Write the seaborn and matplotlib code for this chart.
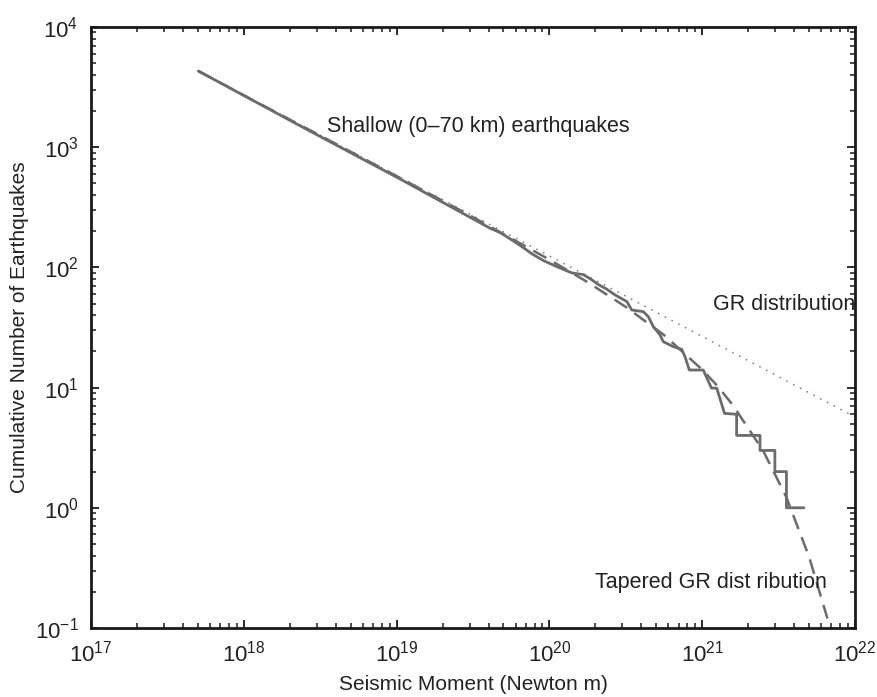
import numpy as np
import pandas as pd
import matplotlib
matplotlib.use("Agg")
import matplotlib.pyplot as plt
import seaborn as sns

obs_moment = [5.04e17, 2.28e18, 1.05e19, 4.08e19, 4.75e19, 5.81e19, 6.75e19, 7.66e19,
              9.12e19, 1.035e20, 1.17e20, 1.40e20, 1.67e20, 1.89e20, 2.09e20, 2.37e20,
              2.69e20, 3.21e20, 3.46e20, 4.12e20, 4.44e20, 4.79e20, 5.30e20, 5.56e20,
              6.47e20, 7.35e20, 7.71e20, 8.24e20, 1.016e21, 1.15e21, 1.245e21, 1.40e21,
              1.68e21, 1.68e21, 2.39e21, 2.39e21, 2.99e21, 2.99e21, 3.56e21, 3.56e21, 4.63e21]
obs_count = [4300, 1530, 545, 212, 195, 166, 146, 130,
             114, 106, 99, 90, 87, 79, 72, 66,
             59, 52, 44.2, 42.8, 38.9, 32.1, 27.4, 24.1,
             21.9, 20.8, 18.1, 14.0, 14.0, 9.9, 9.9, 6.1,
             6, 4, 4, 3, 3, 2, 2, 1, 1]

# plain GR line (straight in log-log)
gr_moment = [5.04e17, 1e22]
gr_count = [4300, 5.7]

# tapered GR curve
tap_moment = [5.04e17, 1e18, 3.16e18, 1e19, 3.16e19, 1e20, 1.78e20, 3.16e20, 5.62e20,
              1e21, 1.26e21, 1.58e21, 2.51e21, 3.55e21, 5.01e21, 6.6e21]
tap_count = [4300, 2700, 1248, 575, 262, 116, 75.3, 46.9, 27.4,
             14.1, 10.3, 7.2, 2.97, 1.23, 0.39, 0.12]

sns.set_style("ticks")
plt.rcParams['font.family'] = ['Liberation Sans', 'DejaVu Sans']
plt.rcParams['mathtext.fontset'] = 'custom'
plt.rcParams['mathtext.rm'] = 'Liberation Sans'
plt.rcParams['mathtext.it'] = 'Liberation Sans:italic'

fig = plt.figure(figsize=(8.77, 6.97), dpi=100)
ax = fig.add_axes([0.1038, 0.0990, 0.8711, 0.8623])

line_col = "#6b6b6b"
df_obs = pd.DataFrame({"m": obs_moment, "n": obs_count})
df_gr = pd.DataFrame({"m": gr_moment, "n": gr_count})
df_tap = pd.DataFrame({"m": tap_moment, "n": tap_count})

sns.lineplot(data=df_gr, x="m", y="n", ax=ax, color="#7a7a7a", lw=1.1,
             linestyle=(0, (1, 4)), estimator=None, sort=False)
sns.lineplot(data=df_tap, x="m", y="n", ax=ax, color=line_col, lw=1.8,
             linestyle=(0, (6, 3.5)), estimator=None, sort=False)
sns.lineplot(data=df_obs, x="m", y="n", ax=ax, color=line_col, lw=2.0,
             estimator=None, sort=False)

ax.set_xscale("log")
ax.set_yscale("log")
ax.set_xlim(1e17, 1e22)
ax.set_ylim(1e-1, 1e4)

for s in ax.spines.values():
    s.set_linewidth(2.0)
    s.set_color("#1a1a1a")
ax.tick_params(which="both", direction="in", top=True, right=True,
               colors="#1a1a1a", labelcolor="#222222")
ax.tick_params(which="major", length=6, width=1.3, labelsize=16, pad=9)
ax.tick_params(which="minor", length=3.5, width=1.1)
ax.xaxis.set_major_locator(matplotlib.ticker.LogLocator(base=10, numticks=10))
ax.yaxis.set_major_locator(matplotlib.ticker.LogLocator(base=10, numticks=10))
ax.xaxis.set_minor_locator(matplotlib.ticker.LogLocator(base=10, subs=np.arange(2, 10), numticks=20))
ax.yaxis.set_minor_locator(matplotlib.ticker.LogLocator(base=10, subs=np.arange(2, 10), numticks=20))
ax.xaxis.set_minor_formatter(matplotlib.ticker.NullFormatter())
ax.yaxis.set_minor_formatter(matplotlib.ticker.NullFormatter())

ax.set_xlabel("Seismic Moment (Newton m)", fontsize=15, color="#222222", labelpad=6)
ax.set_ylabel("Cumulative Number of Earthquakes", fontsize=15, color="#222222", labelpad=4)

ax.text(3.5e18, 10 ** 3.17, "Shallow (0\u201370 km) earthquakes", fontsize=15.5,
        color="#222222", va="center", ha="left")
ax.text(1.01e22, 10 ** 1.69, "GR distribution", fontsize=15.5, color="#222222",
        va="center", ha="right", zorder=5)
ax.text(2.0e20, 10 ** -0.62, "Tapered GR dist ribution", fontsize=15.5, color="#222222",
        va="center", ha="left")

plt.savefig("out.png", dpi=100)
